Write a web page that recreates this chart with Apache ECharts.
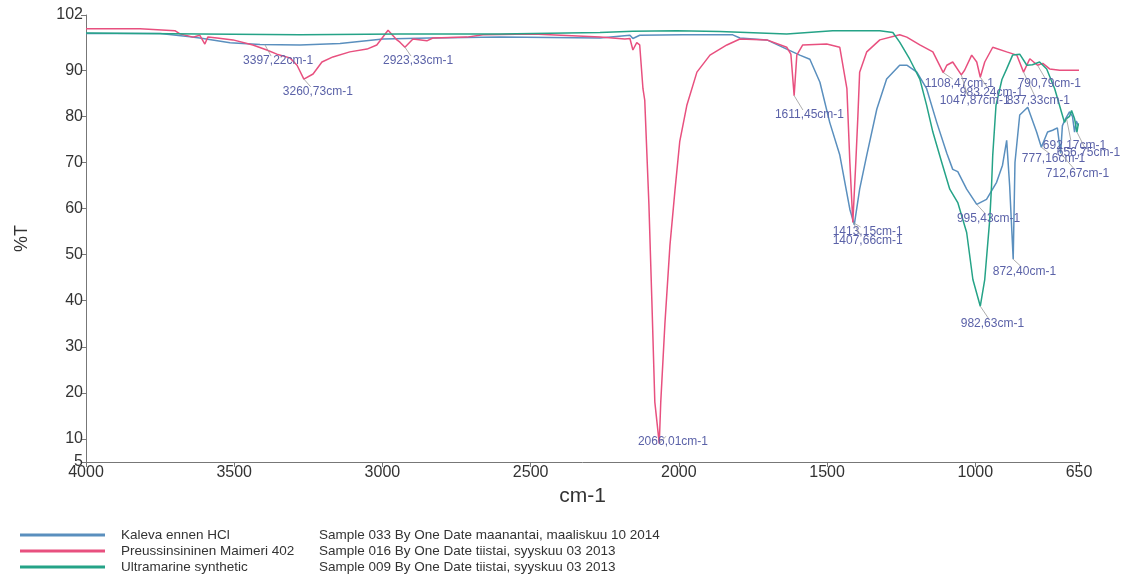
<!DOCTYPE html>
<html>
<head>
<meta charset="utf-8">
<script src="https://cdn.jsdelivr.net/npm/echarts@6/dist/echarts.min.js"></script>
<style>
html,body{margin:0;padding:0;background:#fff;}
#chart{width:1130px;height:583px;}
</style>
</head>
<body>
<div id="chart"></div>
<script>
// ---- data ----
const seriesNames = ['Kaleva ennen HCl', 'Preussinsininen Maimeri 402', 'Ultramarine synthetic'];
const sampleInfo = [
  'Sample 033 By One Date maanantai, maaliskuu 10 2014',
  'Sample 016 By One Date tiistai, syyskuu 03 2013',
  'Sample 009 By One Date tiistai, syyskuu 03 2013'
];
const xTicks = [4000, 3500, 3000, 2500, 2000, 1500, 1000, 650];
const yTicks = [5, 10, 20, 30, 40, 50, 60, 70, 80, 90, 102];

const kalevaWn = [4000, 3750, 3649, 3616, 3514, 3413, 3278, 3143, 2998, 2840, 2604, 2266, 2165, 2155, 2132, 1987, 1818, 1794, 1703, 1636, 1592, 1558, 1524, 1491, 1457, 1423, 1408, 1390, 1366, 1332, 1299, 1255, 1231, 1197, 1164, 1130, 1096, 1076, 1059, 1029, 995, 962, 928, 908, 894, 884, 872, 866, 850, 823, 793, 777, 756, 739, 723, 712, 706, 696, 682, 672, 665, 659, 652];
const kalevaT  = [98.0, 98.0, 97.3, 97.0, 96.0, 95.6, 95.5, 95.8, 96.8, 97.0, 97.2, 97.0, 97.6, 96.9, 97.6, 97.7, 97.7, 97.0, 96.6, 94.6, 93.3, 92.4, 87.4, 78.7, 71.6, 59.8, 56.5, 64.2, 71.6, 81.6, 88.1, 91.1, 91.1, 89.6, 86.0, 78.7, 72.0, 68.5, 68.0, 64.2, 60.9, 62.0, 65.7, 69.4, 74.8, 65.0, 49.0, 70.0, 80.3, 82.0, 76.6, 73.3, 76.6, 77.0, 77.5, 72.0, 78.0, 79.4, 81.0, 80.0, 76.6, 79.0, 78.0];

const prussianWn = [4000, 3818, 3700, 3683, 3639, 3616, 3599, 3589, 3558, 3504, 3437, 3390, 3356, 3312, 3288, 3265, 3234, 3204, 3167, 3110, 3052, 3019, 2981, 2951, 2941, 2924, 2897, 2850, 2830, 2715, 2661, 2492, 2266, 2182, 2165, 2155, 2142, 2132, 2121, 2115, 2101, 2091, 2081, 2066, 2061, 2047, 2030, 2013, 1997, 1973, 1939, 1895, 1838, 1794, 1703, 1636, 1622, 1611, 1602, 1582, 1501, 1457, 1433, 1423, 1413, 1403, 1396, 1390, 1366, 1322, 1255, 1231, 1187, 1143, 1108, 1096, 1076, 1047, 1036, 1012, 995, 983, 968, 941, 894, 860, 837, 816, 790, 772, 749, 715, 650];
const prussianT  = [99.0, 99.0, 98.6, 97.9, 97.2, 97.6, 95.7, 97.2, 97.0, 96.6, 95.5, 94.4, 93.5, 92.7, 91.1, 88.1, 89.2, 91.8, 92.9, 94.0, 94.6, 95.5, 98.7, 96.6, 96.1, 95.0, 96.8, 96.4, 97.0, 97.2, 97.7, 97.9, 97.2, 96.8, 96.9, 94.4, 96.0, 95.5, 86.0, 83.5, 61.0, 40.0, 18.0, 9.0, 18.0, 35.0, 52.0, 64.0, 74.5, 82.4, 89.6, 93.3, 95.5, 96.8, 96.6, 95.0, 93.5, 84.5, 93.3, 95.5, 95.7, 95.0, 86.0, 70.0, 57.0, 70.0, 80.0, 89.6, 94.0, 96.6, 97.7, 97.2, 95.5, 94.0, 89.5, 91.1, 91.8, 89.0, 90.0, 93.3, 91.8, 88.5, 91.8, 95.0, 94.0, 93.3, 89.6, 92.5, 91.1, 91.5, 90.3, 90.0, 90.0];

const ultraWn = [4000, 3616, 3278, 2941, 2604, 2266, 2155, 2007, 1862, 1636, 1481, 1322, 1278, 1255, 1221, 1187, 1164, 1143, 1113, 1086, 1059, 1029, 1008, 983, 968, 951, 945, 941, 930, 910, 894, 874, 850, 826, 807, 783, 759, 732, 709, 699, 692, 682, 675, 665, 657, 652];
const ultraT  = [98.1, 97.9, 97.7, 97.9, 97.9, 98.2, 98.5, 98.6, 98.4, 97.9, 98.6, 98.6, 98.2, 96.1, 92.4, 88.1, 82.4, 76.6, 70.0, 64.2, 61.3, 54.8, 44.6, 38.8, 44.6, 57.7, 65.0, 71.6, 82.4, 88.0, 90.3, 93.3, 93.5, 91.1, 91.2, 91.8, 90.3, 86.0, 80.9, 78.7, 79.5, 80.0, 81.3, 79.5, 76.6, 78.5];

// peak annotations: text, peak wavenumber, peak %T, label wavenumber, label %T
const peakText  = ['3397,22cm-1', '3260,73cm-1', '2923,33cm-1', '2066,01cm-1', '1611,45cm-1', '1413,15cm-1', '1407,66cm-1', '995,43cm-1', '872,40cm-1', '982,63cm-1', '1108,47cm-1', '983,24cm-1', '1047,87cm-1', '837,33cm-1', '790,79cm-1', '692,17cm-1', '656,75cm-1', '777,16cm-1', '712,67cm-1'];
const peakWn    = [3397, 3265, 2924, 2066, 1611, 1413, 1408, 995, 872, 983, 1108, 983, 1047, 837, 790, 692, 657, 777, 712];
const peakT     = [95.6, 88.1, 95.0, 9.0, 84.5, 57.0, 56.5, 60.9, 49.0, 38.8, 89.5, 88.5, 89.0, 89.6, 91.1, 79.5, 76.6, 73.3, 72.0];
const labelWn   = [3470, 3336, 2998, 2138, 1676, 1481, 1481, 1062, 941, 1049, 1170, 1052, 1120, 894, 857, 772, 725, 843, 762];
const labelT    = [92.0, 85.3, 92.0, 9.5, 80.3, 54.9, 53.1, 57.9, 46.4, 35.0, 87.0, 85.1, 83.4, 83.4, 87.0, 73.7, 72.1, 70.8, 67.6];

const colors = ['#5a8fbe', '#e8507f', '#25a387'];

// ---- build ----
function pairs(wn, t) { return wn.map((w, i) => [w, t[i]]); }
const lineData = [pairs(kalevaWn, kalevaT), pairs(prussianWn, prussianT), pairs(ultraWn, ultraT)];
const annData = peakWn.map((w, i) => [w, peakT[i], labelWn[i], labelT[i]]);
const FONT = '"Liberation Sans", Arial, sans-serif';

const chart = echarts.init(document.getElementById('chart'));
const option = {
  backgroundColor: '#ffffff',
  animation: false,
  grid: { left: 86, right: 51, top: 15, bottom: 121, containLabel: false },
  xAxis: {
    type: 'value', inverse: true, min: 650, max: 4000,
    name: 'cm-1', nameLocation: 'middle', nameGap: 24,
    nameTextStyle: { fontSize: 21, color: '#333', fontFamily: FONT },
    axisLine: { lineStyle: { color: '#777', width: 1 } },
    axisTick: { show: true, length: 5, customValues: xTicks, lineStyle: { color: '#777' } },
    axisLabel: { customValues: xTicks, fontSize: 16, color: '#333', margin: 3, fontFamily: FONT,
                 formatter: v => String(v) },
    splitLine: { show: false }
  },
  yAxis: {
    type: 'value', min: 5, max: 102,
    name: '%T', nameLocation: 'middle', nameGap: 55, nameRotate: 90,
    nameTextStyle: { fontSize: 18, color: '#333', fontFamily: FONT },
    axisLine: { show: true, lineStyle: { color: '#777', width: 1 } },
    axisTick: { show: true, length: 5, customValues: yTicks, lineStyle: { color: '#777' } },
    axisLabel: { customValues: yTicks, fontSize: 16, color: '#333', margin: 3, fontFamily: FONT,
                 formatter: v => String(v) },
    splitLine: { show: false }
  },
  legend: {
    orient: 'vertical', left: 20, top: 527, padding: 0,
    itemWidth: 85, itemHeight: 3, itemGap: 0,
    icon: 'rect',
    data: seriesNames,
    formatter: function (name) {
      const i = seriesNames.indexOf(name);
      return '{p|}{n|' + name + '}{s|' + sampleInfo[i] + '}';
    },
    textStyle: {
      fontSize: 13, color: '#333', fontFamily: FONT, lineHeight: 16,
      rich: {
        p: { width: 11 },
        n: { width: 198, fontSize: 13.5, lineHeight: 16, color: '#333', fontFamily: FONT },
        s: { fontSize: 13.5, lineHeight: 16, color: '#333', fontFamily: FONT }
      }
    }
  },
  series: [
    ...lineData.map((d, i) => ({
      name: seriesNames[i], type: 'line', data: d, showSymbol: false, symbol: 'none',
      lineStyle: { color: colors[i], width: 1.5 }, itemStyle: { color: colors[i] },
      z: i === 2 ? 3 : 2
    })),
    {
      type: 'custom', data: annData, z: 5, silent: true,
      renderItem: function (params, api) {
        const p = api.coord([api.value(0), api.value(1)]);
        const t = api.coord([api.value(2), api.value(3)]);
        return {
          type: 'group',
          children: [
            { type: 'line', shape: { x1: p[0], y1: p[1], x2: t[0] + 28, y2: t[1] - 5 },
              style: { stroke: '#999', lineWidth: 0.8 } },
            { type: 'text', x: t[0], y: t[1],
              style: { text: peakText[params.dataIndex], fill: '#5b62a8', font: '12px ' + FONT,
                       textVerticalAlign: 'middle', verticalAlign: 'middle' } }
          ]
        };
      }
    }
  ]
};
chart.setOption(option);
</script>
</body>
</html>
